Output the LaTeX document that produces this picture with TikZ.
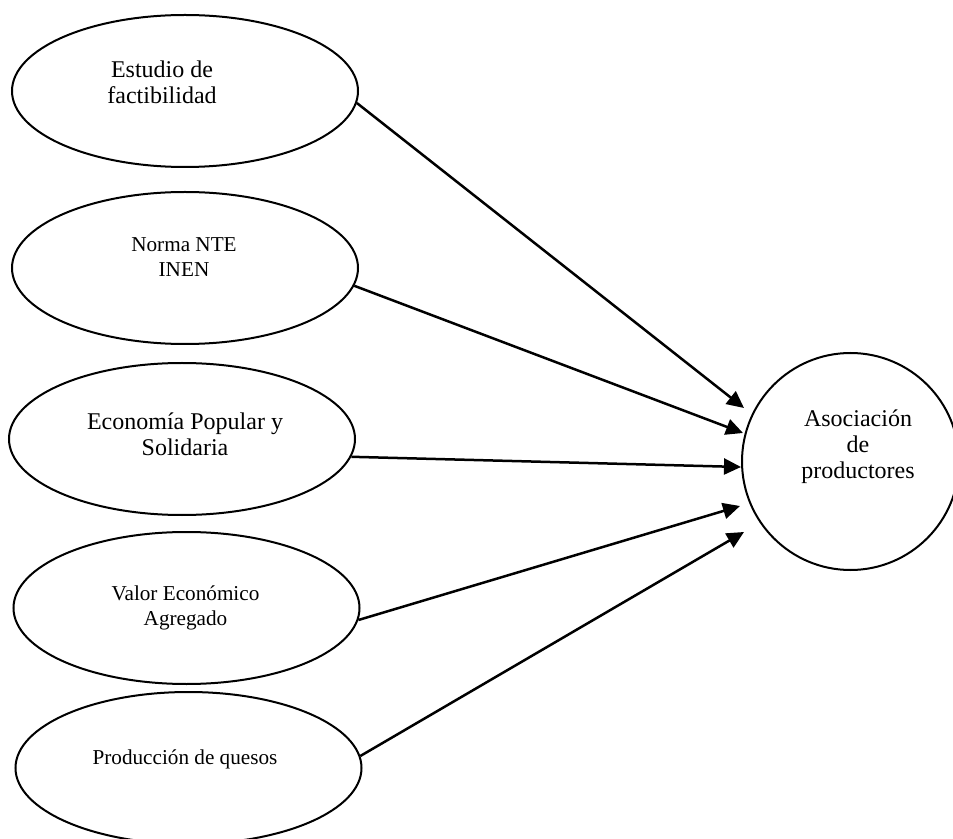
\documentclass[tikz,border=0pt]{standalone}
\usepackage{fontspec}
\setmainfont{Liberation Serif}
\usetikzlibrary{arrows.meta, shapes.geometric}
\newcommand{\bigtxt}{\fontsize{12}{13}\selectfont}
\newcommand{\smalltxt}{\fontsize{10.6}{12.5}\selectfont}
\begin{document}
\begin{tikzpicture}[x=0.5pt, y=-0.5pt, line width=1pt,
  oval/.style={draw, ellipse, minimum width=173pt, minimum height=76pt, inner sep=0pt},
  ring/.style={draw, circle, minimum size=108.5pt, inner sep=0pt},
  bigtext/.style={align=center, inner sep=0pt, font=\bigtxt},
  smalltext/.style={align=center, inner sep=0pt, font=\smalltxt},
  link/.style={line width=1.25pt, -{Triangle[length=8.5pt, width=8pt]}}]
\useasboundingbox (0,0) rectangle (953,839);
\node[ring] (P_1_0) at (850.5,461.5) {};
\node[bigtext] (T_1_0) at (858,447) {Asociación\\de\\productores};
\coordinate (A_0) at (744,408);
\coordinate (A_1) at (743,433);
\coordinate (A_2) at (741,467);
\coordinate (A_3) at (740,506);
\coordinate (A_4) at (744,532);
\node[oval] (P_0_0) at (185,91) {};
\node[bigtext] (T_0_0) at (162,82) {Estudio de\\factibilidad};
\draw[link] (P_0_0.-4) -- (A_0);
\node[oval] (P_0_1) at (185,268) {};
\node[smalltext] (T_0_1) at (184,257) {Norma NTE\\INEN};
\draw[link] (P_0_1.-6.5) -- (A_1);
\node[oval] (P_0_2) at (182,439) {};
\node[bigtext] (T_0_2) at (185,434) {Economía Popular y\\Solidaria};
\draw[link] (P_0_2.-6) -- (A_2);
\node[oval] (P_0_3) at (186.5,608) {};
\node[smalltext] (T_0_3) at (185.5,608) {Valor Económico\\Agregado};
\draw[link] (P_0_3.-4) -- (A_3);
\node[oval] (P_0_4) at (188.5,768) {};
\node[smalltext] (T_0_4) at (185,759) {Producción de quesos};
\draw[link] (P_0_4.4) -- (A_4);
\end{tikzpicture}
\end{document}
